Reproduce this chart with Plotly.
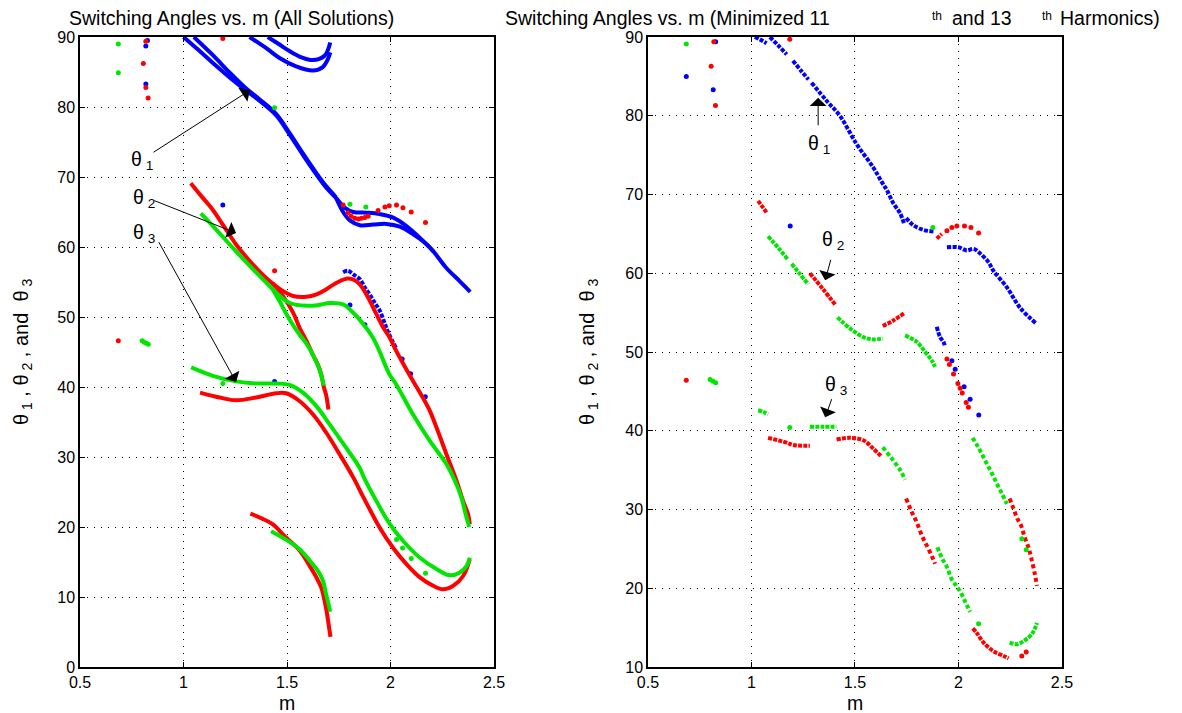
import plotly.graph_objects as go

# ---------------- DATA (m, theta in degrees) ----------------
# Left panel: all solutions
L_BLUE_MAIN = [(1.00, 90.0), (1.07, 88.2), (1.142, 86.3), (1.22, 84.3), (1.30, 82.4), (1.367, 80.9),
               (1.448, 78.8), (1.512, 76.1), (1.576, 73.2), (1.641, 70.4), (1.689, 68.5), (1.737, 67.0),
               (1.78, 65.6), (1.82, 65.0), (1.884, 64.9), (1.948, 64.7), (2.013, 64.2), (2.077, 63.0),
               (2.142, 61.3), (2.206, 59.4), (2.27, 57.0), (2.335, 55.1), (2.385, 53.6)]
L_BLUE_BAND = [(1.05, 90.0), (1.142, 87.4), (1.22, 85.0), (1.30, 82.7), (1.367, 81.1), (1.448, 79.0),
               (1.512, 76.3), (1.576, 73.4), (1.641, 70.6), (1.689, 68.7), (1.737, 67.1)]
L_BLUE_LOWER = [(1.737, 67.0), (1.771, 65.0), (1.804, 63.8), (1.852, 63.1), (1.916, 63.2), (1.98, 63.3),
                (2.045, 62.9), (2.11, 61.8), (2.174, 60.4), (2.206, 59.4)]
L_BLUE_ARC1 = [(1.319, 90.0), (1.40, 88.4), (1.464, 87.0), (1.544, 85.8), (1.625, 85.2), (1.673, 85.7),
               (1.697, 86.8), (1.709, 87.8)]
L_BLUE_ARC2 = [(1.407, 90.0), (1.46, 89.0), (1.512, 88.0), (1.57, 87.1), (1.625, 86.7), (1.681, 87.3),
               (1.697, 88.1), (1.709, 89.2)]
L_BLUE_DROP = [(1.771, 56.4), (1.795, 56.6), (1.82, 56.1), (1.852, 55.4), (1.876, 54.2), (1.90, 53.2),
               (1.924, 52.0), (1.948, 50.9), (1.973, 49.0), (1.99, 47.7), (2.03, 45.4)]
L_BLUE_DOTS = [(0.826, 89.5), (0.818, 88.7), (0.818, 83.3), (1.19, 66.0), (1.44, 40.8), (1.804, 51.7),
               (1.876, 48.9), (2.056, 44.0), (2.097, 41.9), (2.168, 38.6)]

L_RED_THETA2 = [(1.035, 69.1), (1.085, 67.3), (1.134, 65.6), (1.19, 63.2), (1.253, 60.4), (1.32, 58.0),
                (1.398, 55.6), (1.43, 54.8), (1.465, 54.0), (1.53, 53.0), (1.594, 52.9), (1.64, 53.2),
                (1.675, 53.7), (1.74, 54.9), (1.795, 55.5), (1.836, 55.1), (1.868, 54.0), (1.90, 52.3),
                (1.932, 50.4), (1.965, 48.5), (1.997, 47.0), (2.02, 45.6), (2.06, 43.4), (2.108, 40.9),
                (2.15, 38.8), (2.19, 36.6), (2.23, 33.6), (2.27, 30.4), (2.319, 26.6), (2.351, 23.7),
                (2.375, 21.8), (2.383, 20.4)]
L_RED_STEEP = [(1.43, 54.8), (1.48, 53.0), (1.53, 50.6), (1.56, 48.5), (1.594, 46.6), (1.625, 44.6),
               (1.649, 43.2), (1.665, 41.8), (1.677, 40.1), (1.69, 38.7), (1.70, 36.8)]
L_RED_THETA3 = [(1.08, 39.2), (1.174, 38.5), (1.254, 38.1), (1.351, 38.5), (1.448, 39.1), (1.496, 39.1),
                (1.56, 38.0), (1.625, 36.1), (1.689, 33.5), (1.754, 30.4), (1.818, 27.2), (1.87, 24.2),
                (1.948, 19.9), (2.013, 17.0), (2.077, 14.7), (2.142, 12.8), (2.206, 11.6), (2.254, 11.1),
                (2.303, 11.6), (2.351, 13.0), (2.383, 15.4)]
L_RED_SMALL = [(1.323, 21.9), (1.38, 21.2), (1.43, 20.4), (1.495, 18.5), (1.562, 16.6), (1.61, 14.4),
               (1.642, 12.8), (1.666, 11.3), (1.682, 9.4), (1.69, 8.2), (1.698, 6.7), (1.71, 4.3)]
L_RED_DOTS = [(0.685, 46.6), (0.818, 89.4), (0.806, 86.2), (0.818, 82.8), (0.829, 81.3), (1.19, 89.8),
              (1.44, 56.6), (1.771, 66.0), (1.795, 64.9), (1.81, 64.4), (1.828, 64.1), (1.845, 64.0),
              (1.86, 64.1), (1.876, 64.2), (1.892, 64.4), (1.94, 65.2), (1.973, 65.7), (1.994, 65.9),
              (2.029, 66.0), (2.06, 65.6), (2.1, 65.0), (2.169, 63.5)]

L_GREEN_THETA3 = [(1.084, 64.8), (1.17, 62.1), (1.253, 59.4), (1.34, 56.7), (1.43, 54.0), (1.465, 53.0),
                  (1.513, 52.0), (1.594, 51.6), (1.65, 51.7), (1.707, 52.0), (1.771, 51.8), (1.82, 50.6),
                  (1.868, 49.0), (1.916, 47.0), (1.947, 45.1), (1.995, 41.8), (2.027, 40.4), (2.108, 36.1),
                  (2.19, 32.3), (2.27, 29.0), (2.311, 26.6), (2.343, 24.2), (2.359, 22.3), (2.38, 20.0)]
L_GREEN_STEEP = [(1.43, 54.0), (1.465, 52.2), (1.513, 49.6), (1.56, 47.5), (1.594, 46.2), (1.625, 44.6),
                 (1.657, 42.5), (1.678, 40.2)]
L_GREEN_LOW = [(1.037, 42.8), (1.142, 41.6), (1.254, 40.8), (1.351, 40.5), (1.448, 40.5), (1.512, 40.3),
               (1.577, 39.2), (1.641, 37.3), (1.705, 34.7), (1.786, 31.3), (1.85, 28.5), (1.876, 26.8),
               (1.932, 23.7), (1.997, 20.4), (2.061, 18.0), (2.142, 15.6), (2.222, 14.0), (2.287, 13.1),
               (2.335, 13.5), (2.367, 14.4), (2.383, 15.6)]
L_GREEN_SMALL = [(1.423, 19.4), (1.495, 18.2), (1.562, 16.8), (1.61, 15.2), (1.65, 13.7), (1.674, 12.3),
                 (1.687, 10.6), (1.698, 9.3), (1.709, 7.9)]
L_GREEN_DOTS = [(0.685, 89.0), (0.685, 84.9), (1.44, 79.9), (1.804, 66.1), (1.881, 65.7), (1.19, 40.5),
                (2.029, 18.2), (2.058, 17.0), (2.10, 15.5), (2.169, 13.4), (0.80, 46.6), (0.81, 46.4),
                (0.82, 46.25), (0.83, 46.1)]

# Right panel: minimized 11th and 13th harmonics
R_BLUE_RUNS = [
    [(1.016, 90.0), (1.04, 89.7), (1.073, 89.2)],
    [(1.089, 90.0), (1.13, 88.9), (1.17, 87.8)],
    [(1.20, 87.0), (1.24, 85.7), (1.275, 84.6)],
    [(1.29, 84.2), (1.363, 81.9), (1.427, 80.0), (1.508, 76.4), (1.589, 73.4), (1.629, 71.6),
     (1.653, 70.6), (1.685, 68.9), (1.718, 67.6), (1.737, 66.3)],
    [(1.747, 67.0), (1.782, 66.1), (1.831, 65.5), (1.879, 65.3)],
    [(1.944, 63.3), (2.0, 63.3), (2.04, 62.9), (2.073, 63.1), (2.105, 62.5), (2.145, 61.4), (2.169, 60.3),
     (2.234, 58.2), (2.298, 55.6), (2.376, 53.6)],
    [(1.895, 53.2), (1.911, 51.9), (1.927, 51.3), (1.935, 50.7)],
]
R_BLUE_DOTS = [(0.827, 89.4), (0.685, 85.0), (0.815, 83.3), (1.187, 66.0), (1.968, 48.9), (1.984, 47.8),
               (2.027, 45.6), (2.056, 44.0), (2.098, 42.0)]

R_RED_RUNS = [
    [(1.032, 69.2), (1.054, 68.4), (1.076, 67.6)],
    [(1.282, 60.0), (1.345, 58.0), (1.408, 55.9)],
    [(1.634, 53.3), (1.685, 54.0), (1.742, 55.0)],
    [(1.895, 64.4), (1.919, 65.0)],
    [(1.08, 39.1), (1.169, 38.5), (1.2, 38.2), (1.282, 38.1)],
    [(1.411, 38.9), (1.476, 39.1), (1.54, 38.8), (1.589, 37.7), (1.629, 36.7)],
    [(2.069, 14.9), (2.089, 14.3), (2.121, 13.1), (2.169, 12.0), (2.218, 11.4), (2.242, 11.1)],
]
R_RED_SPARSE = [
    [(1.747, 31.4), (1.774, 29.7), (1.798, 28.4), (1.823, 26.7), (1.847, 25.4), (1.871, 24.1), (1.887, 23.1)],
    [(2.247, 31.4), (2.266, 30.1), (2.285, 28.8), (2.302, 28.0), (2.318, 26.6), (2.34, 25.0), (2.35, 24.0),
     (2.368, 21.9), (2.379, 20.3)],
]
R_RED_DOTS = [(0.818, 89.4), (0.805, 86.3), (0.826, 81.3), (1.185, 89.7), (0.685, 46.4),
              (1.944, 65.4), (1.968, 65.8), (1.992, 66.0), (2.029, 66.0), (2.06, 65.8), (2.097, 65.1),
              (1.944, 49.1), (1.956, 48.4), (1.976, 47.2), (1.997, 46.0), (2.008, 45.4), (2.018, 44.8),
              (2.037, 43.6), (2.048, 43.0), (2.306, 11.4), (2.327, 11.9)]

R_GREEN_RUNS = [
    [(1.08, 64.7), (1.13, 63.2), (1.177, 61.7)],
    [(1.194, 61.2), (1.234, 59.9), (1.274, 58.6)],
    [(1.415, 54.4), (1.476, 53.0), (1.54, 51.9), (1.589, 51.6), (1.634, 51.7)],
    [(1.742, 52.1), (1.798, 51.3), (1.839, 50.0), (1.871, 48.9), (1.887, 48.1)],
    [(1.032, 42.6), (1.056, 42.4), (1.08, 42.1)],
    [(1.282, 40.5), (1.35, 40.5), (1.41, 40.5)],
    [(2.247, 13.1), (2.282, 12.9), (2.315, 13.3), (2.355, 14.2), (2.379, 15.6)],
]
R_GREEN_SPARSE = [
    [(1.634, 37.9), (1.677, 36.5), (1.718, 35.0), (1.742, 33.8)],
    [(2.068, 39.1), (2.089, 38.2), (2.11, 37.2), (2.137, 35.8), (2.161, 34.6), (2.185, 33.3), (2.21, 32.0),
     (2.234, 30.7)],
    [(1.898, 25.2), (1.919, 23.9), (1.944, 22.7), (1.968, 21.1), (1.989, 20.3), (2.008, 19.6),
     (2.032, 18.3), (2.056, 17.0)],
]
R_GREEN_DOTS = [(0.685, 89.1), (1.876, 65.8), (1.185, 40.4), (0.80, 46.5), (0.814, 46.3), (0.827, 46.1),
                (2.097, 15.5), (2.306, 26.3), (2.327, 24.9)]

X_TICKS = [0.5, 1, 1.5, 2, 2.5]
Y_TICKS_LEFT = [0, 10, 20, 30, 40, 50, 60, 70, 80, 90]
Y_TICKS_RIGHT = [10, 20, 30, 40, 50, 60, 70, 80, 90]

# ---------------- STYLE ----------------
BLUE, RED, GREEN = "#0000ff", "#ff0000", "#00e600"
FONT = "Liberation Sans, Arial, sans-serif"
TXT = 19.5

# the page body adds an 8 px offset, so margins are shifted by 8 px
ML, MT = 72, 29
MR, MB = 1182 - 1054, 713 - 659


def join(segs):
    xs, ys = [], []
    for s in segs:
        xs += [p[0] for p in s] + [None]
        ys += [p[1] for p in s] + [None]
    return xs, ys


fig = go.Figure()


def add_lines(segs, color, xa, ya, width=4.0, dash=None):
    xs, ys = join(segs)
    fig.add_trace(go.Scatter(x=xs, y=ys, mode="lines", xaxis=xa, yaxis=ya, connectgaps=False,
                             line=dict(color=color, width=width, shape="spline", dash=dash),
                             hoverinfo="skip"))


def add_dots(pts, color, xa, ya, size=5):
    fig.add_trace(go.Scatter(x=[p[0] for p in pts], y=[p[1] for p in pts], mode="markers",
                             xaxis=xa, yaxis=ya, marker=dict(color=color, size=size),
                             hoverinfo="skip"))


# left panel
add_lines([L_BLUE_MAIN, L_BLUE_BAND, L_BLUE_LOWER, L_BLUE_ARC1, L_BLUE_ARC2], BLUE, "x", "y")
add_lines([L_BLUE_DROP], BLUE, "x", "y", dash="4px,1.5px")
add_dots(L_BLUE_DOTS, BLUE, "x", "y")
add_lines([L_RED_THETA2, L_RED_STEEP, L_RED_THETA3, L_RED_SMALL], RED, "x", "y")
add_dots(L_RED_DOTS, RED, "x", "y")
add_lines([L_GREEN_THETA3, L_GREEN_STEEP, L_GREEN_LOW, L_GREEN_SMALL], GREEN, "x", "y")
add_dots(L_GREEN_DOTS, GREEN, "x", "y")

# right panel
add_lines(R_BLUE_RUNS, BLUE, "x2", "y2", dash="4px,1.5px")
add_dots(R_BLUE_DOTS, BLUE, "x2", "y2")
add_lines(R_RED_RUNS, RED, "x2", "y2", dash="4px,1.2px")
add_lines(R_RED_SPARSE, RED, "x2", "y2", dash="4px,3px")
add_dots(R_RED_DOTS, RED, "x2", "y2")
add_lines(R_GREEN_RUNS, GREEN, "x2", "y2", dash="4px,1.2px")
add_lines(R_GREEN_SPARSE, GREEN, "x2", "y2", dash="4px,2.5px")
add_dots(R_GREEN_DOTS, GREEN, "x2", "y2")

axis_common = dict(showline=True, linecolor="black", linewidth=1.5, mirror="ticks", ticks="inside",
                   ticklen=5, tickcolor="black", showgrid=True, gridcolor="black", gridwidth=1,
                   griddash="1px,6px", zeroline=False, tickfont=dict(family=FONT, size=16, color="black"))

fig.update_layout(
    width=1182, height=713, showlegend=False, paper_bgcolor="white", plot_bgcolor="white",
    margin=dict(l=ML, r=MR, t=MT, b=MB),
    font=dict(family=FONT, size=TXT, color="black"),
    xaxis=dict(domain=[0, 0.4216], range=[0.5, 2.5], tickvals=X_TICKS, anchor="y", **axis_common),
    yaxis=dict(domain=[0, 1], range=[0, 90], tickvals=Y_TICKS_LEFT, anchor="x", **axis_common),
    xaxis2=dict(domain=[0.5784, 1.0], range=[0.5, 2.5], tickvals=X_TICKS, anchor="y2", **axis_common),
    yaxis2=dict(domain=[0, 1], range=[10, 90], tickvals=Y_TICKS_RIGHT, anchor="x2", **axis_common),
)

ann = []


def px_x(px):
    return (px - 80) / 982


def px_y(py):
    return (667 - py) / 630


def txt(text, x, y, xref="paper", yref="paper", size=TXT, xanchor="center", yanchor="middle", angle=0):
    ann.append(dict(text=text, x=x, y=y, xref=xref, yref=yref, showarrow=False, xanchor=xanchor,
                    yanchor=yanchor, textangle=angle, borderpad=0,
                    font=dict(family=FONT, size=size, color="black")))


def arrow(x0, y0, x1, y1, xref, yref):
    ann.append(dict(text="", x=x1, y=y1, ax=x0, ay=y0, xref=xref, yref=yref, axref=xref, ayref=yref,
                    showarrow=True, arrowhead=1, arrowsize=2.8, arrowwidth=1, arrowcolor="black"))


# titles
txt("Switching Angles vs. m (All Solutions)", px_x(68), px_y(18), xanchor="left")
txt("Switching Angles vs. m (Minimized 11", px_x(504), px_y(18), xanchor="left")
txt("th", px_x(931), px_y(8), size=12, xanchor="left", yanchor="top")
txt("and 13", px_x(951), px_y(18), xanchor="left")
txt("th", px_x(1041), px_y(8), size=12, xanchor="left", yanchor="top")
txt("Harmonics)", px_x(1059), px_y(18), xanchor="left")

# axis titles
ytitle = "θ<sub> 1</sub> , θ<sub> 2</sub> , and  θ<sub> 3</sub>"
txt(ytitle, px_x(22), 0.5, size=20, angle=-90)
txt(ytitle, px_x(588), 0.5, size=20, angle=-90)
txt("m", 0.2108, px_y(703))
txt("m", 0.7892, px_y(703))

# left panel labels and arrows
txt("θ<sub> 1</sub>", 0.80, 72.4, xref="x", yref="y")
arrow(0.848, 73.4, 1.321, 82.4, "x", "y")
txt("θ<sub> 2</sub>", 0.81, 67.0, xref="x", yref="y")
arrow(0.853, 66.7, 1.254, 62.0, "x", "y")
txt("θ<sub> 3</sub>", 0.81, 62.0, xref="x", yref="y")
arrow(0.877, 60.9, 1.254, 40.7, "x", "y")

# right panel labels and arrows
txt("θ<sub> 1</sub>", 1.325, 76.3, xref="x2", yref="y2")
arrow(1.322, 78.6, 1.322, 82.3, "x2", "y2")
txt("θ<sub> 2</sub>", 1.395, 64.2, xref="x2", yref="y2")
arrow(1.385, 61.9, 1.356, 59.1, "x2", "y2")
txt("θ<sub> 3</sub>", 1.41, 45.8, xref="x2", yref="y2")
arrow(1.39, 44.2, 1.356, 41.7, "x2", "y2")

fig.update_layout(annotations=ann)
fig.write_html("out.html")
